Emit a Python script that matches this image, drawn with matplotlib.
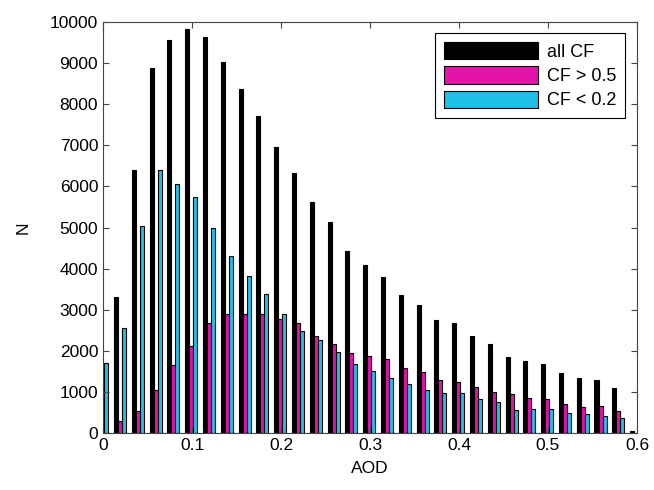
import numpy as np
import matplotlib
matplotlib.use("Agg")
from matplotlib import pyplot as plt

plt.rcParams['font.family'] = ['Liberation Sans', 'DejaVu Sans']

# AOD bin centres (0.02 steps) and counts
aod = np.arange(31) * 0.02 - 0.001
n_all = [0, 3310, 6390, 8890, 9560, 9840, 9640, 9030, 8380, 7720,
         6970, 6330, 5630, 5140, 4430, 4080, 3800, 3360, 3110, 2750,
         2680, 2370, 2160, 1850, 1745, 1670, 1465, 1345, 1280, 1100, 50]
n_cf_high = [0, 290, 530, 1045, 1650, 2115, 2670, 2895, 2885, 2885,
             2780, 2675, 2370, 2175, 1945, 1880, 1790, 1580, 1490, 1280,
             1235, 1110, 1005, 940, 860, 820, 715, 625, 665, 535, 0]
n_cf_low = [1700, 2545, 5030, 6405, 6055, 5750, 4980, 4315, 3820, 3385,
            2885, 2480, 2270, 1975, 1670, 1505, 1345, 1200, 1045, 980,
            965, 820, 745, 560, 585, 585, 495, 470, 420, 365, 0]

labels = ['all CF', 'CF > 0.5', 'CF < 0.2']
colors = ['black', '#e414aa', '#20bfea']

fig = plt.figure(figsize=(6.54, 4.9), dpi=100)
ax = fig.add_axes([0.1575, 0.1163, 0.8165, 0.8387])

w = 0.0045
for i, (vals, lab, col) in enumerate(zip([n_all, n_cf_high, n_cf_low], labels, colors)):
    ax.bar(aod + (i - 1) * w, vals, width=w, color=col, edgecolor='black',
           linewidth=0.8, label=lab)

ax.set_xlim(0, 0.6)
ax.set_ylim(0, 10000)
ax.set_xticks(np.arange(0, 0.61, 0.1))
ax.set_xticklabels(['0', '0.1', '0.2', '0.3', '0.4', '0.5', '0.6'])
ax.set_yticks(np.arange(0, 10001, 1000))
ax.tick_params(direction='in', top=True, right=True, labelsize=12.5, length=4,
               color='#444444')
for s in ax.spines.values():
    s.set_color('#444444')
    s.set_linewidth(0.8)

ax.set_xlabel('AOD', fontsize=12.5, labelpad=6)
ax.set_ylabel('N', fontsize=12.5, labelpad=14)

leg = ax.legend(loc='upper right', bbox_to_anchor=(0.995, 0.995), fontsize=13,
                handlelength=5.2, handleheight=1.1, fancybox=False,
                edgecolor='black', framealpha=1, borderpad=0.5,
                labelspacing=0.3, handletextpad=0.5)
leg.get_frame().set_linewidth(0.8)

fig.savefig('out.png', dpi=100)
